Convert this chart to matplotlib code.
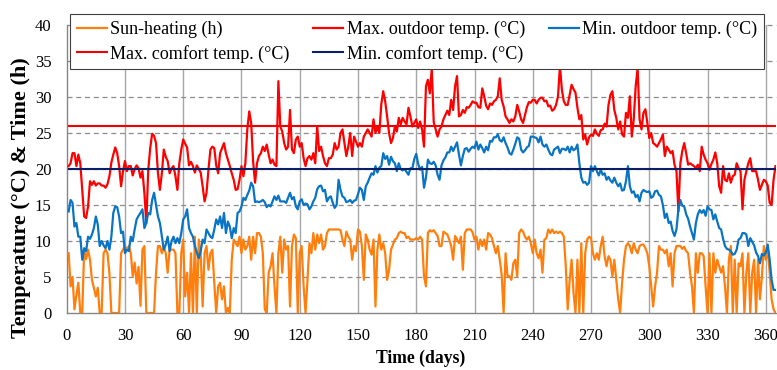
import matplotlib
matplotlib.use("Agg")
import matplotlib.pyplot as plt

days = list(range(1, 366))

sun_heating = [
    8.3, 3.7, 5.0, 0.5, 2.5, 4.2, 0.0, 0.0, 8.8, 7.5,
    8.8, 7.4, 4.6, 3.5, 2.3, 3.5, 0.0, 0.0, 8.3, 8.8,
    8.3, 5.5, 0.0, 0.0, 0.0, 0.0, 0.0, 8.3, 8.8, 9.3,
    8.8, 9.3, 8.3, 5.1, 7.0, 4.1, 6.4, 1.0, 8.8, 9.3,
    0.0, 0.0, 0.0, 0.0, 0.0, 5.6, 9.3, 9.3, 8.3, 9.3,
    8.3, 5.6, 8.8, 8.8, 8.8, 8.3, 0.0, 0.0, 8.3, 10.2,
    2.3, 5.6, 0.0, 8.3, 0.0, 10.6, 0.0, 10.2, 8.3, 0.9,
    8.3, 9.3, 6.0, 8.3, 8.8, 4.2, 0.0, 3.7, 4.2, 1.9,
    3.7, 0.0, 0.7, 0.0, 7.4, 10.2, 9.7, 9.3, 10.6, 8.3,
    10.2, 8.8, 9.3, 10.6, 7.4, 10.6, 8.3, 11.1, 11.1, 10.6,
    8.3, 0.5, 0.0, 5.6, 6.5, 8.3, 3.7, 0.0, 8.3, 10.6,
    5.6, 10.2, 8.8, 9.3, 0.9, 9.3, 10.9, 10.4, 0.0, 8.3,
    9.3, 3.7, 0.0, 4.6, 9.7, 8.3, 11.1, 8.8, 10.9, 9.7,
    10.9, 8.8, 9.3, 11.1, 11.6, 11.6, 11.6, 11.6, 11.6, 11.6,
    11.5, 10.2, 9.3, 11.3, 10.6, 10.2, 7.4, 9.3, 8.6, 11.6,
    11.3, 9.3, 4.6, 10.9, 10.2, 8.8, 8.1, 10.2, 0.9, 8.8,
    10.9, 8.8, 9.7, 8.3, 4.6, 6.0, 8.8, 9.5, 10.2, 10.4,
    11.1, 11.3, 11.1, 11.1, 10.4, 10.6, 10.2, 10.2, 10.2, 10.4,
    10.2, 10.6, 10.2, 5.1, 3.7, 11.1, 11.5, 11.3, 11.5, 11.1,
    10.7, 9.3, 9.3, 11.3, 11.1, 10.9, 10.2, 9.3, 7.4, 10.7,
    10.2, 9.7, 10.6, 6.0, 11.1, 11.6, 11.6, 11.6, 11.2, 10.2,
    10.6, 8.8, 10.2, 9.3, 10.2, 8.8, 11.1, 10.9, 10.4, 9.3,
    8.3, 9.3, 7.4, 5.3, 0.0, 8.3, 5.1, 5.1, 4.6, 6.9,
    7.4, 5.1, 11.1, 11.6, 11.3, 10.6, 10.2, 10.6, 9.7, 8.3,
    10.2, 8.3, 7.6, 8.8, 5.6, 10.2, 10.4, 11.6, 11.1, 11.6,
    11.1, 11.3, 11.1, 11.3, 11.1, 10.6, 6.5, 0.5, 4.6, 7.4,
    2.8, 0.0, 7.4, 0.0, 9.7, 0.0, 8.3, 10.2, 10.6, 10.4,
    8.3, 7.4, 8.3, 7.4, 9.3, 10.6, 7.9, 6.5, 7.9, 7.4,
    5.1, 7.4, 4.6, 1.9, 0.0, 4.2, 7.4, 9.3, 9.7, 9.3,
    8.3, 9.7, 8.8, 8.3, 9.3, 9.5, 9.5, 9.0, 8.3, 6.5,
    3.7, 0.9, 3.7, 5.6, 9.3, 8.8, 8.8, 8.3, 8.8, 6.5,
    8.3, 3.7, 8.3, 9.3, 9.3, 9.3, 8.9, 9.2, 8.6, 8.3,
    5.6, 3.7, 0.0, 8.3, 5.6, 8.3, 8.3, 7.9, 3.7, 0.0,
    8.3, 0.0, 8.3, 5.6, 7.4, 6.5, 5.6, 6.5, 3.7, 0.0,
    7.4, 9.3, 0.0, 7.4, 0.0, 6.9, 6.5, 8.3, 0.0, 5.6,
    8.3, 0.0, 5.6, 7.4, 0.0, 7.4, 1.9, 5.1, 9.3, 7.4,
    8.8, 5.6, 1.9, 0.5, 0.0,
]

max_outdoor = [
    20.4, 20.8, 22.2, 22.2, 20.4, 22.0, 20.8, 17.1, 13.4, 13.2,
    14.8, 18.3, 17.8, 18.3, 17.7, 18.0, 18.0, 17.7, 17.7, 17.4,
    17.9, 19.0, 20.9, 22.0, 23.0, 22.2, 20.4, 17.6, 19.7, 21.1,
    19.7, 20.4, 20.4, 19.1, 20.0, 20.5, 20.1, 18.8, 19.7, 16.7,
    12.5, 19.9, 22.9, 24.9, 24.6, 23.6, 19.4, 17.1, 19.4, 22.7,
    21.7, 21.1, 19.4, 20.1, 20.4, 19.0, 17.1, 20.8, 22.7, 24.1,
    23.5, 23.0, 20.5, 21.0, 20.4, 19.5, 20.5, 20.0, 19.5, 17.6,
    15.5, 16.7, 19.9, 22.7, 23.1, 22.9, 20.5, 19.4, 22.2, 22.9,
    23.6, 22.2, 21.3, 20.4, 19.4, 18.5, 17.1, 17.2, 18.5, 20.4,
    19.0, 20.8, 25.5, 28.0, 26.4, 21.0, 18.1, 20.8, 21.8, 22.2,
    23.1, 22.5, 23.4, 22.0, 20.8, 21.3, 20.6, 20.4, 32.2, 25.9,
    25.2, 23.6, 22.7, 23.1, 28.2, 22.7, 22.2, 24.1, 24.5, 23.1,
    23.6, 21.5, 20.4, 21.5, 21.8, 21.3, 22.2, 20.8, 25.9, 22.5,
    23.1, 21.8, 20.8, 20.4, 21.5, 21.5, 22.0, 23.6, 22.7, 23.1,
    25.0, 25.5, 23.6, 21.8, 23.1, 25.0, 21.8, 24.5, 23.8, 23.1,
    23.6, 23.1, 24.5, 25.0, 25.5, 25.0, 24.5, 26.9, 25.0, 25.9,
    25.0, 29.0, 30.8, 29.4, 27.3, 25.0, 23.6, 24.3, 25.9, 25.2,
    27.1, 26.2, 27.1, 26.6, 26.2, 28.5, 27.3, 25.9, 26.4, 26.9,
    25.7, 26.6, 25.5, 23.1, 31.5, 32.4, 30.5, 34.0, 26.5, 25.5,
    24.5, 25.5, 25.9, 26.9, 27.5, 28.1, 27.5, 29.6, 28.2, 31.5,
    32.9, 27.3, 27.5, 28.2, 27.8, 28.6, 28.5, 28.9, 29.4, 29.2,
    29.2, 28.6, 28.5, 31.2, 30.1, 28.8, 28.3, 29.1, 28.9, 29.4,
    29.6, 30.1, 32.6, 29.6, 28.7, 27.3, 26.9, 26.4, 26.9, 26.6,
    27.3, 28.9, 28.0, 26.9, 26.4, 27.5, 28.6, 29.3, 29.2, 29.6,
    29.6, 29.1, 29.6, 29.9, 29.9, 29.4, 29.5, 28.7, 28.8, 28.1,
    28.3, 28.9, 30.1, 34.3, 31.0, 29.4, 28.9, 28.9, 30.3, 31.7,
    31.1, 30.6, 28.5, 26.9, 27.5, 24.1, 24.8, 23.4, 24.4, 24.8,
    24.6, 25.5, 24.9, 24.6, 25.4, 25.5, 26.3, 25.9, 28.9, 30.3,
    30.8, 28.2, 27.1, 25.5, 26.6, 24.8, 24.5, 27.8, 27.1, 30.1,
    24.5, 26.9, 31.5, 34.0, 26.9, 25.5, 27.8, 28.3, 26.4, 24.3,
    25.0, 23.6, 23.4, 23.1, 23.6, 24.1, 24.8, 21.8, 23.1, 22.7,
    22.2, 22.5, 20.6, 19.7, 14.1, 20.8, 22.5, 23.6, 22.2, 20.6,
    20.8, 20.6, 20.4, 20.1, 20.6, 19.7, 23.1, 22.0, 21.3, 20.8,
    19.9, 20.7, 21.3, 22.3, 20.8, 17.6, 16.7, 20.4, 18.5, 18.3,
    19.4, 18.1, 19.0, 19.2, 20.8, 20.1, 19.7, 14.4, 18.5, 19.7,
    20.8, 21.5, 19.7, 19.7, 19.7, 18.5, 17.1, 17.8, 18.5, 18.3,
    17.7, 15.3, 15.0, 18.5, 20.4,
]

min_outdoor = [
    14.1, 15.7, 15.3, 12.0, 12.5, 10.6, 10.6, 7.4, 9.0, 8.6,
    10.6, 10.3, 10.9, 11.8, 13.4, 12.3, 9.3, 10.0, 9.4, 9.0,
    10.0, 8.8, 10.6, 13.9, 14.8, 14.7, 13.4, 11.1, 11.3, 8.3,
    8.8, 8.6, 10.6, 10.0, 11.6, 13.0, 13.5, 13.9, 14.4, 11.8,
    12.5, 13.9, 13.7, 15.7, 16.7, 15.0, 13.4, 12.5, 10.6, 8.8,
    9.5, 10.6, 8.6, 10.0, 10.6, 9.7, 10.4, 9.7, 11.1, 13.0,
    13.4, 14.4, 11.8, 11.1, 10.6, 9.3, 8.4, 7.6, 8.6, 10.2,
    9.7, 11.6, 11.1, 10.6, 10.4, 11.6, 13.0, 12.3, 13.4, 11.8,
    13.9, 11.1, 12.7, 12.0, 10.4, 11.8, 11.1, 13.9, 14.1, 14.8,
    16.0, 15.7, 16.4, 17.0, 18.1, 17.6, 15.4, 15.5, 15.4, 15.5,
    15.7, 15.4, 14.7, 15.0, 14.8, 15.5, 16.2, 15.7, 16.3, 15.5,
    15.5, 15.5, 15.3, 16.0, 16.7, 15.8, 16.1, 14.8, 14.4, 15.5,
    15.8, 15.0, 15.2, 15.1, 14.4, 14.8, 15.5, 16.0, 17.2, 17.6,
    17.7, 16.9, 17.1, 15.5, 16.0, 16.2, 15.3, 14.6, 15.0, 18.5,
    17.1, 16.2, 16.0, 15.4, 15.5, 15.7, 15.3, 15.6, 15.7, 16.5,
    17.4, 17.1, 15.7, 17.6, 18.1, 18.8, 19.4, 19.2, 20.4, 19.5,
    20.2, 20.4, 22.2, 21.4, 21.8, 20.6, 21.7, 21.1, 20.8, 19.7,
    20.8, 20.0, 19.8, 20.0, 19.6, 19.2, 20.1, 20.1, 21.4, 22.1,
    20.7, 19.9, 20.3, 17.4, 18.8, 21.3, 20.8, 20.7, 21.0, 20.5,
    19.2, 18.5, 20.5, 21.2, 21.6, 22.3, 22.3, 23.1, 22.5, 23.1,
    23.7, 22.0, 20.5, 21.8, 22.8, 22.9, 22.4, 22.8, 23.1, 22.9,
    23.8, 22.7, 23.4, 22.9, 22.3, 23.1, 22.6, 23.9, 23.8, 24.4,
    24.4, 24.8, 24.0, 23.8, 24.4, 23.6, 23.0, 22.2, 22.0, 22.7,
    23.5, 24.4, 24.2, 22.7, 22.3, 22.6, 23.0, 23.2, 24.5, 24.5,
    24.4, 24.3, 23.7, 24.5, 23.4, 23.1, 23.4, 22.7, 22.1, 21.9,
    22.7, 22.9, 23.1, 22.2, 22.8, 22.8, 22.6, 23.1, 22.3, 23.1,
    22.6, 22.8, 23.4, 20.8, 18.8, 18.1, 18.2, 17.8, 18.1, 20.4,
    19.7, 20.4, 19.7, 19.1, 19.9, 19.2, 19.4, 18.5, 18.9, 18.4,
    18.1, 18.8, 18.1, 17.6, 18.0, 17.0, 17.1, 18.3, 20.4, 17.6,
    16.7, 16.9, 16.1, 16.4, 15.5, 16.7, 17.1, 16.9, 16.8, 16.9,
    16.0, 16.2, 16.9, 17.0, 16.4, 16.2, 15.0, 13.2, 13.8, 12.5,
    12.7, 11.4, 10.7, 11.6, 14.4, 15.7, 14.9, 14.8, 13.7, 13.1,
    12.0, 11.1, 10.2, 12.5, 13.7, 14.3, 13.9, 14.3, 13.5, 14.8,
    14.4, 14.3, 13.0, 13.7, 12.7, 11.8, 11.6, 10.3, 9.3, 8.9,
    8.8, 8.6, 8.1, 8.2, 8.8, 10.2, 10.4, 11.1, 11.1, 10.9,
    9.3, 10.4, 9.9, 9.4, 8.4, 7.9, 6.9, 8.2, 8.0, 8.4,
    9.5, 7.4, 4.6, 3.2, 3.2,
]

max_comfort = [26.0] * len(days)
min_comfort = [20.0] * len(days)

x_ticks = [0, 30, 60, 90, 120, 150, 180, 210, 240, 270, 300, 330, 360]
y_ticks = [0, 5, 10, 15, 20, 25, 30, 35, 40]

labels = ["Sun-heating (h)", "Max. outdoor temp. (\u00b0C)", "Min. outdoor temp. (\u00b0C)",
          "Max. comfort temp. (\u00b0C)", "Min. comfort temp. (\u00b0C)"]

plt.rcParams['font.family'] = ['Liberation Serif', 'DejaVu Serif']

W, H = 777, 370
fig = plt.figure(figsize=(W / 100, H / 100), dpi=100)
ax = fig.add_axes([66.7 / W, 1 - 313 / H, (775.5 - 66.7) / W, (313 - 25) / H])

# grids
for xt in x_ticks[1:]:
    ax.axvline(xt, color='#A6A6A6', lw=1.0, zorder=1)
for yt in y_ticks[1:]:
    ax.axhline(yt, color='#8C8C8C', lw=0.9, ls=(0, (4, 3)), zorder=1, clip_on=False)

c_orange = '#FF7F0E'
c_red = '#FF0000'
c_blue = '#0A74C4'
c_navy = '#0B1F66'

h1, = ax.plot(days, sun_heating, color=c_orange, lw=1.6, zorder=3)
h2, = ax.plot(days, max_outdoor, color=c_red, lw=1.6, zorder=3)
h3, = ax.plot(days, min_outdoor, color=c_blue, lw=1.6, zorder=3)
h4, = ax.plot(days, max_comfort, color='#F00000', lw=1.5, zorder=4)
h5, = ax.plot(days, min_comfort, color=c_navy, lw=1.5, zorder=4)

ax.set_xlim(0, 365)
ax.set_ylim(0, 40)
ax.set_xticks(x_ticks)
ax.set_yticks(y_ticks)
ax.tick_params(axis='x', length=0, labelsize=12, pad=10.5, colors='black')
ax.tick_params(axis='y', length=0, labelsize=12, pad=11, labelcolor='black')
for side in ('top', 'right'):
    ax.spines[side].set_visible(False)
for side in ('left', 'bottom'):
    ax.spines[side].set_color('#868686')
    ax.spines[side].set_linewidth(1.0)

ax.set_xlabel("Time (days)", fontsize=12.7, fontweight='bold')
ax.xaxis.set_label_coords(0.5, (313 - 358) / 288, transform=ax.transAxes)
ax.xaxis.label.set_va('center')
ax.set_ylabel("Temperature (\u00b0C) & Time (h)", fontsize=16, fontweight='bold')
ax.yaxis.set_label_coords((31 - 66.7) / 708.8, (313 - 198) / 288)

handles = [h1, h4, h2, h5, h3]
hl = [labels[0], labels[3], labels[1], labels[4], labels[2]]
leg = ax.legend(handles, hl, ncol=3, loc='upper left',
                bbox_to_anchor=(70 / W, 1 - 14 / H),
                bbox_transform=fig.transFigure, fontsize=13,
                frameon=True, fancybox=False, framealpha=1, edgecolor='#404040',
                handlelength=1.66, handletextpad=0.2, labelspacing=0.36,
                borderpad=0.38, borderaxespad=0, columnspacing=1.3)
leg.get_frame().set_linewidth(0.8)
leg.set_zorder(10)

fig.savefig("out.png", dpi=100)
